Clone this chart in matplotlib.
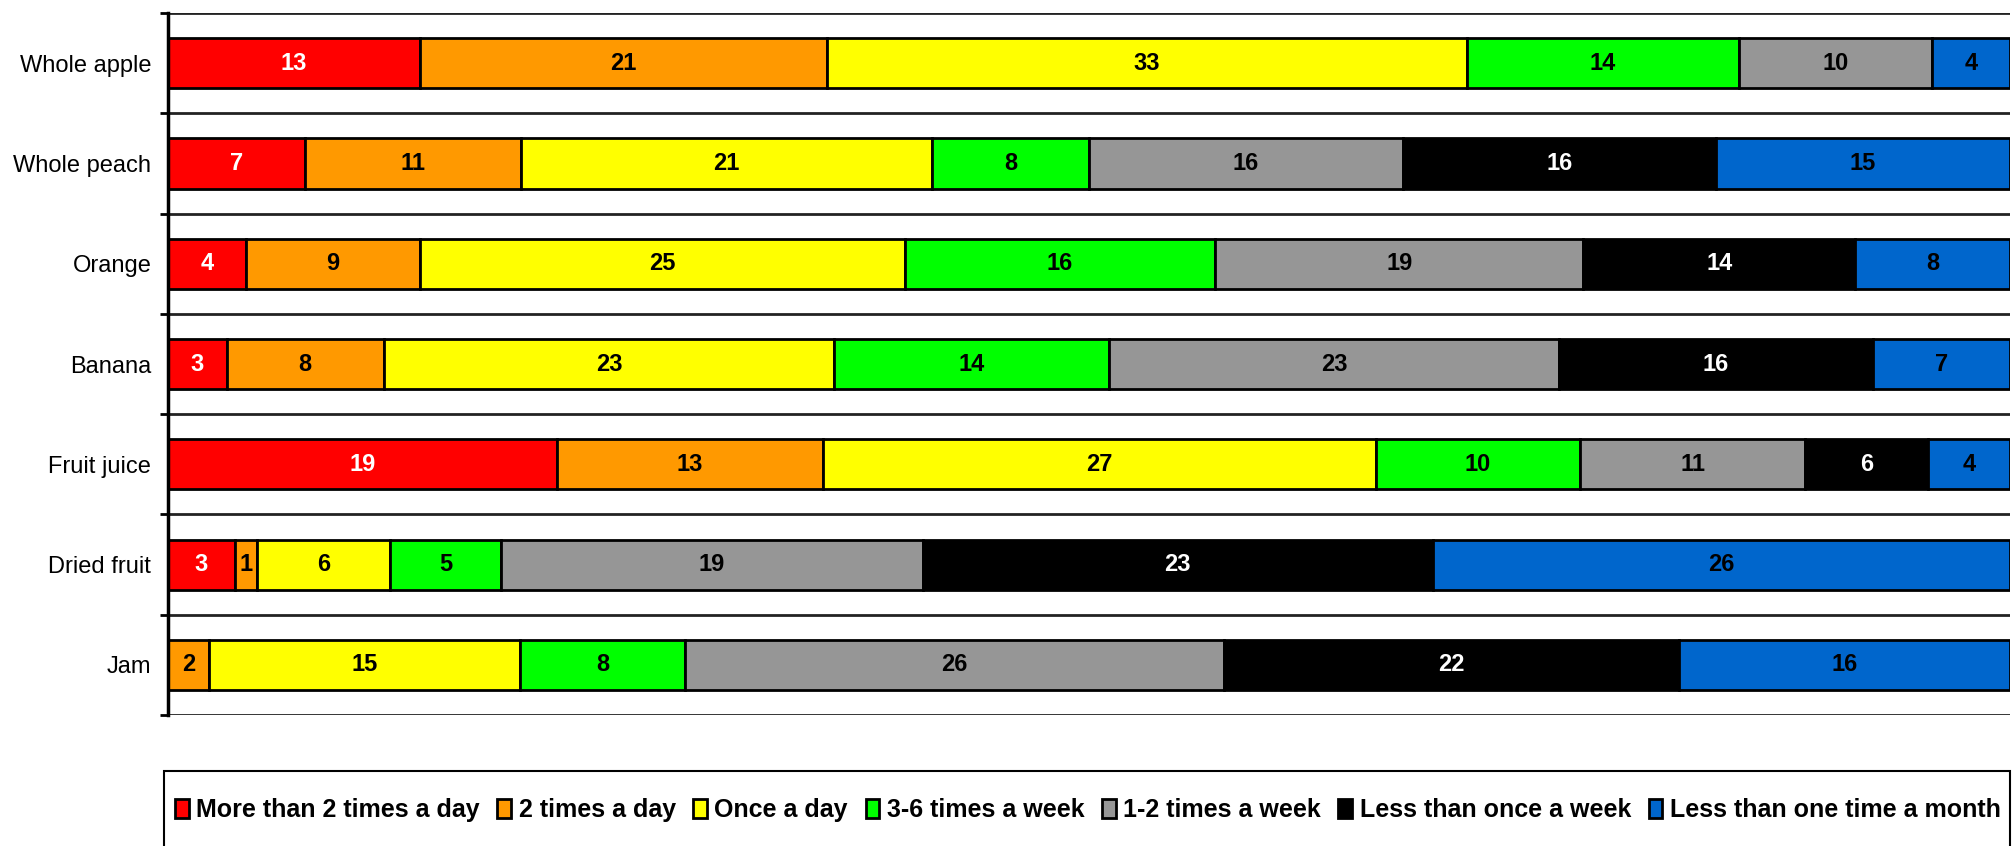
import matplotlib
matplotlib.use('Agg')
import matplotlib.pyplot as plt
from matplotlib.patches import Rectangle
import numpy as np

plt.rcParams['font.family'] = ['Liberation Sans', 'DejaVu Sans']

categories = ['Whole apple', 'Whole peach', 'Orange', 'Banana', 'Fruit juice', 'Dried fruit', 'Jam']
series_names = ['More than 2 times a day', '2 times a day', 'Once a day', '3-6 times a week',
                '1-2 times a week', 'Less than once a week', 'Less than one time a month']
more_than_2_day = [13, 7, 4, 3, 19, 3, 0]
two_day = [21, 11, 9, 8, 13, 1, 2]
once_day = [33, 21, 25, 23, 27, 6, 15]
three_six_week = [14, 8, 16, 14, 10, 5, 8]
one_two_week = [10, 16, 19, 23, 11, 19, 26]
less_once_week = [0, 16, 14, 16, 6, 23, 22]
less_once_month = [4, 15, 8, 7, 4, 26, 16]

colors = ['#FF0000', '#FF9900', '#FFFF00', '#00FF00', '#969696', '#000000', '#0066CC']
label_colors = ['white', 'black', 'black', 'black', 'black', 'white', 'black']

values = np.array([more_than_2_day, two_day, once_day, three_six_week,
                   one_two_week, less_once_week, less_once_month], dtype=float)
totals = values.sum(axis=0)
pct = values / totals * 100

W, H = 2012, 846
fig = plt.figure(figsize=(W / 100, H / 100), dpi=100)
ax = fig.add_axes([168 / W, 1 - 715 / H, (2010 - 168) / W, (715 - 13) / H])

n = len(categories)
y = np.arange(n)
left = np.zeros(n)
handles = []
for i in range(len(series_names)):
    bars = ax.barh(y, pct[i], left=left, height=0.5, color=colors[i],
                   edgecolor='black', linewidth=2, label=series_names[i], zorder=3)
    labels = [str(int(v)) if v > 0 else '' for v in values[i]]
    ax.bar_label(bars, labels=labels, label_type='center', color=label_colors[i],
                 fontsize=17, fontweight='bold')
    left += pct[i]
    handles.append(bars)

ax.set_xlim(0, 100)
ax.set_ylim(n - 0.5, -0.5)
ax.set_yticks(np.arange(-0.5, n, 1.0))
ax.set_yticklabels([])
ax.set_yticks(y, minor=True)
ax.set_yticklabels(categories, minor=True, fontsize=17)
ax.tick_params(axis='y', which='major', length=6, width=2, direction='out', color='black')
ax.tick_params(axis='y', which='minor', length=0, pad=12)
ax.grid(axis='y', which='major', color='#222222', linewidth=2, zorder=1)
ax.xaxis.set_visible(False)
for s in ['top', 'right', 'bottom']:
    ax.spines[s].set_visible(False)
ax.spines['left'].set_linewidth(2.5)
ax.spines['left'].set_zorder(4)

leg = fig.legend(handles=handles, labels=series_names, loc='center left',
                 bbox_to_anchor=(175 / W, 1 - 810 / H), ncol=7, frameon=False,
                 prop={'weight': 'bold', 'size': 18.0}, handlelength=0.55, handleheight=0.8,
                 handletextpad=0.3, columnspacing=0.7, borderaxespad=0, borderpad=0)

fig.patches.append(Rectangle((164 / W, -0.05), (2010 - 164) / W, (846 - 771) / H + 0.05,
                             transform=fig.transFigure, fill=False, edgecolor='black',
                             linewidth=1.5))

fig.savefig('out.png', dpi=100)
